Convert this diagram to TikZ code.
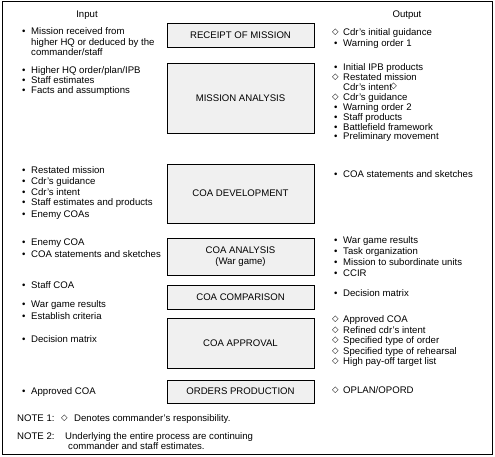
\documentclass[tikz,border=0pt]{standalone}
\usepackage{fontspec}
\setmainfont{Liberation Sans}
\newfontfamily\symfont{DejaVu Sans}
\usetikzlibrary{positioning}
\definecolor{stage-gray}{RGB}{240,240,240}
\newcommand{\bul}{\makebox[11pt][l]{\kern2pt\textbullet}}
\newcommand{\dia}{\makebox[11pt][l]{\raisebox{0.8pt}{\symfont\fontsize{8.5}{9}\selectfont\char"25C7}}}
\newcommand{\nob}{\hspace*{11pt}}

\begin{document}
\begin{tikzpicture}[x=1pt, y=-1pt,
  stage/.style={draw, line width=0.8pt, fill=stage-gray, minimum width=147pt, align=center, font=\fontsize{9.6}{11}\selectfont},
  list/.style={anchor=north west, inner sep=0pt, align=left, font=\fontsize{9.6}{10}\selectfont},
  head/.style={inner sep=0pt, font=\fontsize{9.6}{11}\selectfont},
]
  \useasboundingbox (0,0) rectangle (495,457);
  \draw[line width=0.8pt] (2,1) rectangle (492,454);

  % headers
  \node[head] (input) at (87,15) {Input};
  \node[head] (output) at (407,15) {Output};

  % process stages
  \node[stage, minimum height=24pt] (receipt) at (240.5,35) {RECEIPT OF MISSION};
  \node[stage, minimum height=70pt] (analysis) at (240.5,98) {MISSION ANALYSIS};
  \node[stage, minimum height=59pt] (develop) at (240.5,193.5) {COA DEVELOPMENT};
  \node[stage, minimum height=37pt] (wargame) at (240.5,256.5) {COA ANALYSIS\\(War game)};
  \node[stage, minimum height=24pt] (compare) at (240.5,297) {COA COMPARISON};
  \node[stage, minimum height=50pt] (approve) at (240.5,343) {COA APPROVAL};
  \node[stage, minimum height=23pt] (orders) at (240.5,391.5) {ORDERS PRODUCTION};

  % input column
  \node[list] (in-receipt) at (20,27.5) {\bul Mission received from\\[1pt]\nob higher HQ or deduced by the\\\nob commander/staff};
  \node[list] (in-analysis) at (20,66.5) {\bul Higher HQ order/plan/IPB\\\bul Staff estimates\\\bul Facts and assumptions};
  \node[list, font=\fontsize{9.6}{10.7}\selectfont] (in-develop) at (20,166.5) {\bul Restated mission\\\bul Cdr's guidance\\\bul Cdr's intent\\\bul Staff estimates and products\\[1.3pt]\bul Enemy COAs};
  \node[list] (in-wargame) at (20,238.5) {\bul Enemy COA\\[2pt]\bul COA statements and sketches};
  \node[list] (in-compare) at (20,281.5) {\bul Staff COA};
  \node[list] (in-criteria) at (20,300.5) {\bul War game results\\[2pt]\bul Establish criteria};
  \node[list] (in-approve) at (20,335.5) {\bul Decision matrix};
  \node[list] (in-orders) at (20,387.5) {\bul Approved COA};

  % output column
  \node[list] (out-receipt) at (332,28.5) {\dia Cdr's initial guidance\\[1pt]\bul Warning order 1};
  \node[list, font=\fontsize{9.6}{9.9}\selectfont] (out-analysis) at (332,63.5) {\bul Initial IPB products\\\dia Restated mission\\\nob Cdr's intent\kern-1.5pt\raisebox{1.5pt}{\dia}\\\dia Cdr's guidance\\\bul Warning order 2\\\bul Staff products\\\bul Battlefield framework\\\bul Preliminary movement};
  \node[list] (out-develop) at (332,170.5) {\bul COA statements and sketches};
  \node[list, font=\fontsize{9.6}{11}\selectfont] (out-wargame) at (332,236.5) {\bul War game results\\\bul Task organization\\\bul Mission to subordinate units\\\bul CCIR};
  \node[list] (out-compare) at (332,289.5) {\bul Decision matrix};
  \node[list, font=\fontsize{9.6}{10.5}\selectfont] (out-approve) at (332,315.5) {\dia Approved COA\\\dia Refined cdr's intent\\\dia Specified type of order\\\dia Specified type of rehearsal\\\dia High pay-off target list};
  \node[list] (out-orders) at (332,386.5) {\dia OPLAN/OPORD};

  % notes
  \node[list] (note1) at (17,414.5) {NOTE 1:};
  \node[list] (note1-text) at (61,414.5) {\makebox[13pt][l]{\raisebox{1pt}{\dia}}Denotes commander's responsibility.};
  \node[list] (note2) at (17,432.5) {NOTE 2:};
  \node[list, font=\fontsize{9.6}{9.5}\selectfont] (note2-text) at (65,432.5) {Underlying the entire process are continuing\\\hspace*{3pt}commander and staff estimates.};
\end{tikzpicture}
\end{document}
